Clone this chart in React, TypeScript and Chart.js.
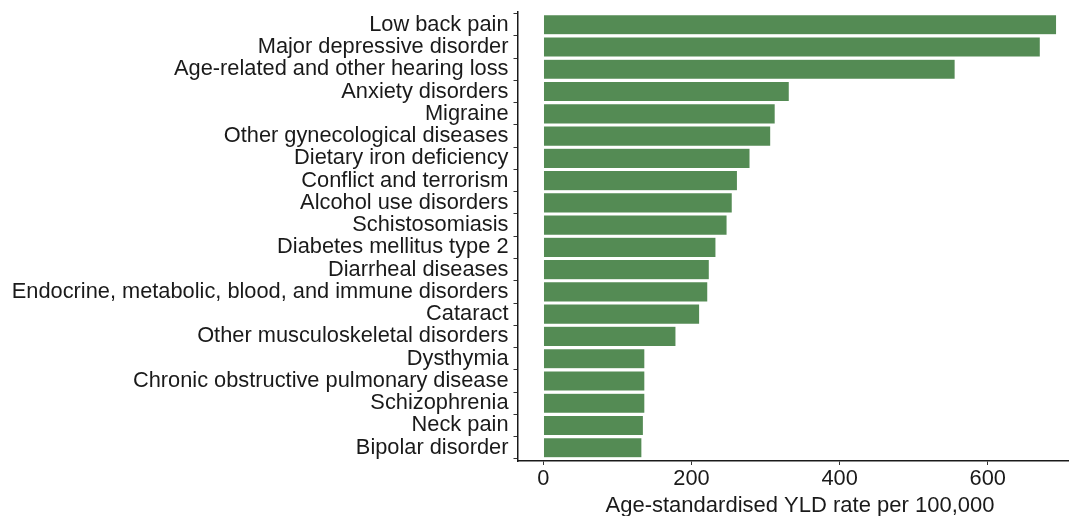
import React, { useEffect, useRef } from "react";
import { Chart, registerables } from "chart.js";

Chart.register(...registerables);

const categories: string[] = [
  "Low back pain",
  "Major depressive disorder",
  "Age-related and other hearing loss",
  "Anxiety disorders",
  "Migraine",
  "Other gynecological diseases",
  "Dietary iron deficiency",
  "Conflict and terrorism",
  "Alcohol use disorders",
  "Schistosomiasis",
  "Diabetes mellitus type 2",
  "Diarrheal diseases",
  "Endocrine, metabolic, blood, and immune disorders",
  "Cataract",
  "Other musculoskeletal disorders",
  "Dysthymia",
  "Chronic obstructive pulmonary disease",
  "Schizophrenia",
  "Neck pain",
  "Bipolar disorder",
];

const yldRates: number[] = [
  693, 671, 556, 332, 313, 307, 279, 262, 255, 248, 233, 224, 222, 211, 179,
  137, 137, 137, 135, 133,
];

const xTicks: number[] = [0, 200, 400, 600];
const xMin = -35;
const xMax = 728;
const xTitle = "Age-standardised YLD rate per 100,000";

const CANVAS_W = 1100;
const CANVAS_H = 540;
const FONT = "'Liberation Sans', Arial, Helvetica, sans-serif";
const TEXT = "#1a1a1a";

export default function App() {
  const ref = useRef<HTMLCanvasElement | null>(null);

  useEffect(() => {
    if (!ref.current) return;
    const chart = new Chart(ref.current, {
      type: "bar",
      data: {
        datasets: [
          {
            data: categories.map((c, i) => ({ x: yldRates[i], y: i })),
            backgroundColor: "#548B54",
            borderColor: "rgba(255,255,255,0.6)",
            borderWidth: 0.5,
            categoryPercentage: 1,
            barPercentage: 0.9,
          },
        ],
      },
      options: {
        indexAxis: "y",
        animation: false,
        responsive: false,
        maintainAspectRatio: false,
        layout: { padding: { top: 11.5, right: CANVAS_W - 1082.5, left: 0, bottom: 0 } },
        plugins: { legend: { display: false }, tooltip: { enabled: false } },
        scales: {
          x: {
            type: "linear",
            min: xMin,
            max: xMax,
            afterBuildTicks: (s: any) => {
              s.ticks = xTicks.map((v) => ({ value: v }));
            },
            afterFit: (s: any) => {
              s.height = CANVAS_H - 461;
              s.paddingLeft = 0;
              s.paddingRight = 0;
            },
            grid: {
              display: true,
              drawOnChartArea: false,
              drawTicks: true,
              tickLength: 4,
              color: "#333333",
              lineWidth: 1,
            },
            border: { display: true, color: TEXT, width: 1.5 },
            ticks: {
              color: TEXT,
              font: { family: FONT, size: 21.8 },
              padding: 1,
              maxRotation: 0,
              autoSkip: false,
            },
            title: {
              display: true,
              text: xTitle,
              color: TEXT,
              font: { family: FONT, size: 22 },
              padding: { top: 0, bottom: 21 },
            },
          },
          y: {
            type: "linear",
            min: -0.6,
            max: categories.length - 0.4,
            reverse: true,
            offset: false,
            afterBuildTicks: (s: any) => {
              s.ticks = categories.map((_, i) => ({ value: i }));
            },
            afterFit: (s: any) => {
              s.width = 517.5;
              s.paddingTop = 0;
              s.paddingBottom = 0;
            },
            grid: {
              display: true,
              drawOnChartArea: false,
              drawTicks: true,
              tickLength: 4,
              color: "#333333",
              lineWidth: 1,
            },
            border: { display: true, color: TEXT, width: 1.5 },
            ticks: {
              color: TEXT,
              font: { family: FONT, size: 21.8 },
              padding: 5,
              autoSkip: false,
              callback: (v: any) => categories[Number(v)] ?? "",
            },
          },
        },
      },
    });
    return () => chart.destroy();
  }, []);

  return (
    <div
      style={{
        position: "fixed",
        left: 0,
        top: 0,
        width: 1069,
        height: 516,
        overflow: "hidden",
        background: "#ffffff",
      }}
    >
      <canvas
        ref={ref}
        width={CANVAS_W}
        height={CANVAS_H}
        style={{ width: CANVAS_W, height: CANVAS_H, display: "block" }}
      />
    </div>
  );
}
